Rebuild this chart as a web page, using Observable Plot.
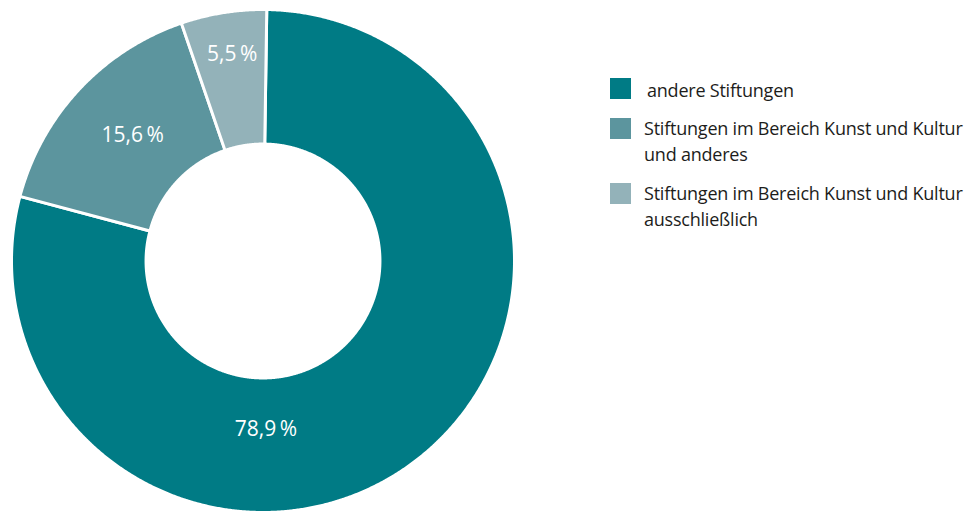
<!DOCTYPE html>
<html>
<head>
<meta charset="utf-8">
<script src="https://cdn.jsdelivr.net/npm/d3@7"></script>
<script src="https://cdn.jsdelivr.net/npm/@observablehq/plot@0.6"></script>
<style>
  html, body { margin: 0; padding: 0; background: #fff; }
  #wrap { position: relative; width: 971px; height: 511px; overflow: hidden; }
  #legend { position: absolute; left: 610px; top: 0; font-family: "Open Sans", sans-serif; font-size: 18px; color: #1d1d1b; letter-spacing: -0.22px; }
  .item { position: absolute; left: 0; white-space: nowrap; }
  .sw { position: absolute; left: 0; width: 21px; height: 21px; }
  .txt { position: absolute; left: 34px; line-height: 26px; }
</style>
</head>
<body>
<div id="wrap"><div id="chart"></div><div id="legend"></div></div>
<script>
// ---- data ----
const categories = ["andere Stiftungen", "Stiftungen im Bereich Kunst und Kultur und anderes", "Stiftungen im Bereich Kunst und Kultur ausschließlich"];
const shares = [78.9, 15.6, 5.5];
const valueLabels = ["78,9\u2009%", "15,6\u2009%", "5,5\u2009%"];
const legendLines = [["andere Stiftungen"], ["Stiftungen im Bereich Kunst und Kultur", "und anderes"], ["Stiftungen im Bereich Kunst und Kultur", "ausschließlich"]];
const colors = ["#007b85", "#5c959e", "#93b2b9"];

// ---- layout ----
const innerR = 0.465;
const startOffset = 0.015; // radians
// label placement: angle (deg clockwise from top) and radius (in outer-radius units)
const labelAngle = [179, 314, 351.5];
const labelRadius = [0.67, 0.72, 0.83];

const pie = d3.pie().sort(null).value(d => d)
  .startAngle(startOffset).endAngle(2 * Math.PI + startOffset)(shares);
const pts = [];
pie.forEach((p, i) => {
  const n = Math.max(4, Math.ceil((p.endAngle - p.startAngle) / 0.005));
  for (let k = 0; k <= n; k++) {
    const a = p.startAngle + (p.endAngle - p.startAngle) * k / n;
    pts.push({cat: categories[i], x: Math.sin(a), y: Math.cos(a)});
  }
  for (let k = n; k >= 0; k--) {
    const a = p.startAngle + (p.endAngle - p.startAngle) * k / n;
    pts.push({cat: categories[i], x: innerR * Math.sin(a), y: innerR * Math.cos(a)});
  }
});
const labels = valueLabels.map((t, i) => {
  const a = labelAngle[i] * Math.PI / 180;
  return {t, x: labelRadius[i] * Math.sin(a), y: labelRadius[i] * Math.cos(a)};
});

const chart = Plot.plot({
  width: 971, height: 511,
  margin: 0,
  x: {domain: [-1, 1], range: [11, 514], axis: null},
  y: {domain: [-1, 1], range: [512, 9], axis: null},
  color: {domain: categories, range: colors},
  marks: [
    Plot.line(pts, {x: "x", y: "y", z: "cat", fill: "cat", stroke: "white", strokeWidth: 3, curve: "linear-closed"}),
    Plot.text(labels, {x: "x", y: "y", text: "t", fill: "white", fontSize: 21, fontFamily: "Open Sans, sans-serif", letterSpacing: -0.3})
  ]
});
document.getElementById("chart").appendChild(chart);

// legend
const legend = document.getElementById("legend");
const tops = [78, 118, 183];
legendLines.forEach((lines, i) => {
  const item = document.createElement("div");
  item.className = "item";
  item.style.top = tops[i] + "px";
  const sw = document.createElement("div");
  sw.className = "sw"; sw.style.background = colors[i];
  const txt = document.createElement("div");
  txt.className = "txt";
  txt.style.top = i === 0 ? "-1px" : "-3px";
  if (i === 0) txt.style.left = "37px";
  txt.innerHTML = lines.join("<br>");
  item.appendChild(sw); item.appendChild(txt);
  legend.appendChild(item);
});
</script>
</body>
</html>
